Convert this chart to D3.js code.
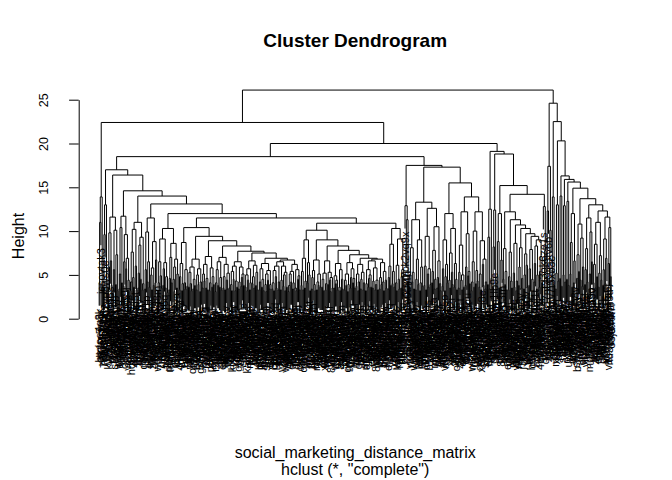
<!DOCTYPE html>
<html>
<head>
<meta charset="utf-8">
<script src="https://cdn.jsdelivr.net/npm/d3@7"></script>
<style>
  body { margin: 0; background: #fff; }
  svg text { font-family: "Liberation Sans", Arial, Helvetica, sans-serif; fill: #000; }
</style>
</head>
<body>
<svg id="chart" width="672" height="480"></svg>
<script>
// merge nodes are [height, left, right]; leaves are the user ids

// left end
const outlierA = [13.9, [11.0, [4.1, "hmjoe4g3k", "clk1m5w8s"], "jcsovtak3"], [3.9, "3oeb4hiln", "fd75x1vgk"]];
const outlierB = [13.0, [9.6, [3.6, "h6kqo5k2x", "7hbr3mk2a"], "q2yp8ws0e"], [4.4, "b4nmvq71t", "x9ei0zr5u"]];
const clusterP = [11.6, [9.8, [5.9, [3.5, "kw8m3ja2p", "0tze6nbq1"], "ulx4fv9rc"], [6.6, "m3h7dqo5s", [3.8, "pf2ga8wky", "e6jd0ul4n"]]], [10.1, [5.6, [3.3, "r1vx9tc7h", "s8oqk2ep5"], "9zdmw3jyb"], [7.3, [3.9, "g5cu1rn0i", "lq7b6xta2"], [3.2, "w0ye5hk8f", "n4pi2szd9"]]]];
const clusterQ = [11.7, [10.4, [5.1, [3.4, "a7tk0mz3q", "yv5n1oe8r"], "c2fh9wl6d"], [4.1, "5smq8iug0", "t3xb7pzk4"]], [9.6, [6.5, [3.7, "ie0r4dn2y", "o8ka5vmh1"], "zb6w3ct9j"], [6.9, [5.7, "1nyg7lqs5", "d9ue2fo0x"], [4.4, [3.3, "v4mp6hr8b", "jx1c0ta7e"], "f5lq9ks3w"]]]];
const clusterS = [11.0, [10.2, [7.6, [4.2, [3.2, "6rj2en8qa", "hc9o4xw1m"], "ky3t7bf0s"], [4.7, "ud8l5gp2z", [3.6, "2wq0ym6iv", "e7ns4ok9c"]]], [6.0, "pm1x8hd5t", [3.3, "bz4a2vu7l", "r9gk3jw0o"]]], [9.3, [8.4, [5.2, [3.5, "x0cf6le4n", "4ht9pa1qd"], "ws5u2kr8y"], [4.5, "ig7m0zs3b", "n2ox8cj5f"]], [4.0, [3.3, "8vlw1tq6e", "qd4j9ym2h"], "o6be3nx0k"]]];
const clusterT = [11.5, [9.9, [5.6, [3.4, "l3mz7cu9a", "fy0i5kr2w"], "t8dn4hq1p"], [6.5, [4.2, "9sgx2ob6v", "jk5e0wl3r"], [3.6, "cw7q1fm8z", "m0au6ty4g"]]], [8.8, [5.8, [5.0, "3pv9jd2nx", [3.3, "hq4s8lc0e", "z1ko7gb5u"]], [3.8, "yt6r2xm9i", "b8wl0ep3a"]], [6.7, [4.1, "5ec3nu7hf", "gx9z1qs4o"], "ar2k6vd8m"]]];
const clusterU = [10.3, [9.1, [6.5, [4.1, [3.2, "w3nb8ky1c", "0fh5qz7dl"], "s9ex2pu4j"], [4.9, "kr6o1mv3t", [3.5, "7dy4gaw0n", "qj2lc9h5x"]]], [6.4, [5.7, [3.8, "e5tz0bi8r", "vm3s7oy1k"], "h1wp4nf6q"], [4.8, [3.5, "u0gd9jx2m", "c7kr3le5z"], [3.0, "2yq8aht6v", "pn4f1wo9s"]]]], [8.6, [7.0, [4.6, [3.3, "mo7x2cg5b", "i9lu6ek0w"], "zs3h8rq1y"], [4.1, "bk0v5tn7f", "6qa9dm4jc"]], [6.8, [5.9, [4.5, "xe2j7sp0h", [3.1, "g8yo4ub1l", "t5cw9nk3r"]], "1mf6zq2va"], [5.1, [3.5, "dh3k0wi8e", "ry7n5ax2p"], "jo4u1bs9g"]]]];

// middle block
const clusterV1L = [8.7, [6.3, [4.8, [3.3, "na6t2lf9q", "4gw8zo1xk"], "fu0m3hc7y"], [4.0, [3.2, "lb5r9ie2d", "y1ks7vp4o"], "8cjq0xn6t"]], [5.6, [4.1, "ez3w5ga8m", [3.4, "ph9o2ur1j", "k6dy4lt0s"]], [3.7, "s2xn8fb5h", "0ov7ck3wq"]]];
const stepC1 = [6.8, [5.9, [5.3, [3.6, "mi1e8gz4r", "wd7u3qk0b"], [4.0, "3tn5yx9aj", [3.2, "hv0l6cs2f", "qr4p1mo8w"]]], [4.5, [3.4, "jz9b7nd3e", "c5ka0fw2u"], [3.8, "xo2g6ht9l", "7wmi4sr1v"]]], [5.7, [5.0, [3.3, "bu8c3pe6z", "kl1y5jq0n"], [3.9, "f4sx9ov2m", "r0dh7ti5a"]], [4.2, [3.1, "gn6q2wb8k", "5ye1zu4cx"], "tj3m0la9s"]]];
const stepC2 = [7.1, [6.2, [5.1, [3.5, "ea4o8vn1g", "9kxr2lf7d"], [4.3, "uh5t0bm3q", "z6wp9cj2i"]], [4.6, [3.5, "1sd7ey4ok", "nq0g3rx8v"], [3.3, "wl2f6ua9t", "b7ih5mz0c"]]], [5.8, [4.1, [3.2, "oy8j1kd4s", "p3vn6ew2x"], "ct9a0gq5l"], [4.8, [3.6, "6mu2hr8zb", "ij4x7sf1o"], [3.9, "k0le5ty9w", "dq8c3np6a"]]]];
const stepC3 = [7.0, [6.5, [5.6, [4.1, [3.1, "rz1m7kb4e", "5hy0qw2jn"], "gv6s9to3c"], [3.8, "lx3e8dp0u", "a9kf2ri6m"]], [4.7, [3.6, "nw5t1zc7y", "0jb4og8hq"], [3.3, "ys7d2lv5k", "e1qa9mx3f"]]], [6.2, [4.8, [3.5, "tc4n0ih6w", "8pu3ke1zr"], [3.3, "hg9w5jb2s", "m6ol1yf4d"]], [5.2, [4.4, "q0zr8ct5v", [3.4, "wk2i6nh9a", "3xe7gu0pl"]], [3.5, "fb1s4mq8j", "u7dy9aw2o"]]]];
const stepC4 = [6.5, [6.0, [5.4, [3.9, "cj5p2wx8n", [3.2, "9fo4ta1le", "kv7h3ys0m"]], [4.5, "dz0u6bq9r", "s4ng1ek7w"]], [4.3, [3.2, "xm8r5co2i", "1ah9vj3tf"], [3.6, "ot6l0wz4b", "y3e8sq5kd"]]], [5.9, [4.2, [3.4, "gp2c7mu9x", "w5ki1fr0n"], "e8xz4lo6h"], [5.1, [4.7, [3.7, "b0jt9dv3q", "7nm5gs2ya"], "hu3w8ep1c"], [3.8, "r6qf0kx5z", "l9b2oy7ti"]]]];
const stepC5 = [6.6, [5.7, [5.0, [3.6, "z7ws3nf0k", "2ci8hb5vq"], [4.4, [3.2, "ka1o6xe9m", "vt4g0dr7y"], "j8lz2uq3p"]], [4.1, [3.3, "n5ey9mi1s", "f0rp4ck6w"], "u2db7tx8h"]], [6.1, [4.8, [4.0, "o9qh3sg5l", "6xk1wn0ae"], [3.5, "pm4j8vz2r", "ct7f5ou1i"]], [5.3, [3.8, "y0gb6lq3d", "hn9s2ke4x"], [3.3, "4wa7tj1zm", "qe5r0py8c"]]]];
const stepC6 = [6.3, [5.7, [4.2, [3.3, "bm6d1xo9t", "r3ua8gk5e"], "w0lq7hc2n"], [4.5, [3.6, "9ti4zf6ys", "kd2n0mb8v"], [3.2, "ex5w3jr1o", "g7py9al4u"]]], [5.5, [5.1, [3.9, "1qc5vh8kz", [3.1, "sn3o7ew0f", "md8g2iy6j"]], [4.4, "ua0x4tq9l", "f6kb1rp3w"]], [3.9, [3.4, "h2jm9cs5a", "zl7e3vn0y"], "o4rf8dk1g"]]];
const stepC7 = [6.5, [6.0, [5.5, [4.1, [3.4, "tv3k8ab0q", "8ej1wy5mc"], [3.2, "pz6l2ro9h", "c0ng4ux7s"]], [4.8, "xi9f5tk2d", [3.5, "l1wa7mq3e", "5oh0vb8zj"]]], [4.2, [3.3, "ys4d9gn6r", "kq2t1ef5w"], "m8uc3jl0a"]], [6.0, [4.4, [3.3, "0rx6pi2vk", "wb5m8hz1t"], "gd1s4ou9n"], [5.3, [5.0, [3.7, "je7q0cy3f", "3ap9lw6xu"], [3.2, "v6nk2sd8m", "qh0z5tr4b"]], [3.6, "do3y7fg1i", "e9mw4ka2l"]]]];
const stepC8 = [6.2, [5.4, [5.1, [3.8, [3.1, "nk5x0ct8y", "7fq3eh1ow"], "r2wb9jm6s"], [4.2, "zu8g4dl1v", "i0py7sx3k"]], [4.1, [3.4, "a6ce2no9q", "ht1m5ru4j"], "b3zf8wk0e"]], [5.6, [3.5, "s9lo1qv6g", [3.2, "4dk7ja2xm", "wy0h3ti5c"]], [4.9, [4.5, "gm2r6ub9l", "x5ns0ef8p"], [3.3, "u7a1kzq4d", "ob9v3cw6h"]]]];
const clusterVL1 = [9.0, [6.9, [5.4, [3.8, "f8jk2wa5n", "lc0t6ey9r"], [3.3, "q4mh1zo7s", "y9xb3vd0g"]], [4.3, [3.5, "2ep6nl8kw", "kt5i0cq3u"], "ow7f4rj1z"]], [6.4, [4.1, "hs3y9gm6b", "c1ua5xe2q"], [5.0, "v8dn0lk4t", [3.2, "mz6w2pi9f", "5rq7oj3hc"]]]];
const stepD0 = [6.7, [5.5, [4.7, [3.4, "ba4k8vy1o", "uj7s3fn0e"], "z2cr9lw5h"], [3.9, "ek5g1tq8m", [3.2, "6iw0pd3xa", "ry8o2mb4v"]]], [5.1, [4.2, [3.3, "nx3u6hs9c", "0gl1ka7zf"], [3.8, "wq9e4co2t", "dm6b8ry5j"]], [3.6, "p1tf7vx3l", "hk4z0nu8s"]]];
const stepD1 = [6.6, [5.2, [4.5, [3.6, "sy2j9ei6w", "3lb0qz5dk"], [3.2, "gu8m4ct1r", "xa7n2oh6p"]], [4.0, [3.3, "k5fv1yw9e", "m0is8rd3q"], "c6hq3gl0u"]], [5.3, [3.9, "tz9w5ka2n", "1oe4jx7bm"], [4.7, [4.4, "vr3d6su8f", [3.1, "yh1l0pc5z", "8kq7ma2wi"]], [3.5, "ng4t9eb1x", "qj0y2fo6l"]]]];
const stepD2 = [6.3, [4.9, [3.5, "w9cg6un2a", "e3ky0ls7v"], [4.4, [4.0, "lm5p1zx8h", "ob2t7jr4d"], [3.3, "6fu9ew3qc", "i8ds5ng0y"]]], [5.6, [3.6, "rj0o4hb9k", [3.2, "a7mx1yv5t", "zq3e8wf2s"]], [4.5, "k1hn6ca4m", [3.4, "u5rl3dt7o", "9gz0ip8bx"]]]];
const stepD3 = [6.4, [5.1, [4.4, [3.3, "pd8y2qo6j", "x4sw9lk1e"], [3.8, "hf7a3mt0z", "2nb5cr8iu"]], [3.9, [3.1, "gy6k0ve4w", "mt1q9xs3h"], "sl9j4ad7f"]], [5.7, [4.7, [3.5, "0cw8ng2rp", "ve5z1hu6k"], "jb3m7xo9q"], [4.6, [4.1, "ro2e6ik5y", "f9tl4wc0a"], [3.5, "y6hd8sz1n", "nk0u3bq7g"]]]];
const stepD4 = [6.2, [5.1, [3.7, "ct5v9oj2m", "4zx1hg7eb"], [4.2, [3.2, "qa8s0wn6l", "ei3p5kf9r"], "wu7c2yd4t"]], [5.3, [4.5, [3.4, "h0mr6lz3x", "bo9k1qt8s"], "7vg4ej2wn"], [4.1, [3.3, "ld1f8xa5c", "sj6y3mu0p"], "z5nb9ih2k"]]];
const stepD5 = [6.6, [5.6, [4.0, [3.2, "mg4x7tk1o", "a2ow9fe5z"], "yc8l3rb0u"], [5.0, [4.6, [3.6, "k9dj2nq6h", "3ti0vs7ax"], "pw5e1gm8r"], [3.6, "ul0h4zc9f", "e6qy8ko3b"]]], [5.8, [4.3, [3.5, "fn7r3wd2j", "x1gb6ia4m"], "o5kt0ue8y"], [4.4, [3.9, [3.3, "cq2z9hl5v", "8wm4sn1fd"], "ji6a3ox0t"], [3.3, "v3bx7ey9k", "rl8p2cg4n"]]]];
const stepD6 = [6.4, [4.7, [3.4, "iz5q0wu7h", "d9ne3kl6s"], [3.9, "sx1m8jf4b", "hy7t2ao5c"]], [5.4, [4.2, "2kv6rp9ow", [3.2, "bg0d4lq8e", "tm3u7xi1z"]], [4.4, "q6fy1cn3a", [3.5, "wo9h5ek2r", "n4lj0sb7v"]]]];
const clusterE1 = [8.5, [6.0, [4.7, [3.4, "eu3c9mz6k", "7ra0xs4jl"], "lh8w2dn1q"], [3.8, "vk5o7ft3i", "y0pg4be9w"]], [5.4, [4.0, "zd2s6ua8h", "c9qm1ly5x"], [3.6, "gt4n0wk7o", "1jx8ev3rb"]]];
const clusterE2 = [9.1, [6.1, [4.1, "ob6t3hj0v", [3.2, "w2fl9qs5m", "ka7d1ye4n"]], [4.5, "5xg8cu2pz", [3.4, "r3mi6wo9e", "ti0z4bh7s"]]], [5.6, [4.8, [3.5, "hq9n2vf6c", "dl4k8ea1y"], "u1sr5jx3g"], [3.8, "8bw3mo0ti", "ze6y9pk2a"]]];

// block left of centre-right
const outlierD = [12.9, "m7ck2vq9x", [11.3, [8.4, "f3ow6by1l", "xq9e0tn4h"], [4.2, "2sj5lr8ud", "gb7a3zi0w"]]];
const clusterF1 = [11.3, [8.1, [5.0, [3.5, "yk4w1hp8c", "nv0d7qs3e"], "3lf9ag6mo"], [5.3, [4.2, "cz2r5xu0j", "ie8m3tw6b"], [3.4, "wp5y0ok9g", "qs1h7dl4f"]]], [9.0, [6.8, [4.5, [3.3, "a9en2jz5r", "vx3c8fm1k"], "hb6o4tq0w"], [3.9, "tu7l1rg8s", "0ma5kw3yd"]], [5.9, [4.1, [3.2, "ej2x9ch6n", "lr8s4vo0u"], "gz5q1ib3t"], [3.7, "6yd0mn7ka", "pk3f8hw2x"]]]];
const clusterF2 = [12.6, [9.4, [6.0, [3.8, "s4gj8yb2o", "d0wk5ne9h"], [3.3, "ux7m1rq3z", "i2tc6fa8l"]], [5.7, [5.1, "kn9v3pe0s", [3.6, "yo5h2lx7c", "b1qd9mw4r"]], [3.9, "f6zi0ug3k", "w8ea4jt1n"]]], [10.5, [7.8, [5.4, [4.1, "rc3y7od5m", "lj0b2sk8q"], "9hx6fv1wa"], [4.5, [3.4, "mp2u5zi9e", "ta8n4gc0y"], "ez1r7hk3b"]], [6.6, [4.7, [3.5, "q7ow0xd6j", "hv4l3ms8u"], "0ns9bf2tk"], [4.0, "gc5k8ya1r", [3.2, "zw3e6ql0i", "jm7t1pv9d"]]]]];
const clusterG1 = [12.0, [9.0, [5.7, [3.7, "u6ba3ns9x", "8kh0rw4fe"], "cy2p7jl5o"], [6.2, [4.8, [3.2, "vd9m1qt3g", "iw4z8ec6h"], "n0fk5uy2s"], [4.1, "ro3x9bl7a", "k8ej2gz6m"]]], [10.3, [7.5, [4.4, "t1ds6wo4q", [3.5, "xa9h0vk3c", "5lm8rf1zu"]], [5.3, "gq4y7nb2i", [3.9, "ep0t3cw9j", "hz6u1ks5y"]]], [6.3, [3.6, "w7lo4ad8r", "2fc9mx0vn"], [4.5, "jb5e2yq8t", [3.3, "oy1k6hg4w", "s9n3zu7el"]]]]];
const clusterG2a = [12.2, [8.4, [5.3, [3.5, "ml3q8ci0f", "z5hw2dy9k"], "b8rv6po1t"], [5.0, [4.4, "xe1g7su4n", [3.3, "ck9f0mt3a", "4jo5lwq8h"]], [3.6, "yu2n9ra6z", "fi7d3kb0w"]]], [9.7, [5.9, [3.8, "q0xs4ej7m", "lw6c1vh9g"], "8tb2ny5ou"], [5.4, [4.9, "dk5m9za3r", "hr1o6qf8x"], [4.0, "pe3j7gw0c", "v9ul2is4y"]]]];
const clusterG2b = [12.2, [10.0, [6.5, [4.2, [3.2, "ws8k3hx0d", "m2pa9yo6l"], "e7vj1tr4c"], [3.6, "gu0n5zb8q", "tk4f2il7s"]], [5.5, [4.0, "1hc6wm9rx", "ya3q8eg5o"], [4.3, "nd7s0pk2v", "jz9l4ub1f"]]], [8.9, [5.1, [3.6, "c4yx7wq0m", "r8oe3jd5h"], [3.3, "k1t6gn9sa", "x6bh2mz4u"]], [6.8, [6.2, "fw5r0ci8e", [3.8, "ol9d4ak3y", "3zq1uv7tn"]], [4.2, [3.4, "sg6m2ey0j", "vk2x9hr5b"], "a0nl7fo3w"]]]];

// right-hand block
const clusterEL = [12.5, [9.3, [3.9, "ip4w8tz1c", "6ks0yn3mq"], [3.4, "he5u2gl9o", "zr8a6dx4j"]], [4.6, "c1vb7qe0f", "tm9o3kw6s"]];
const clusterE2L = [12.4, [8.2, [3.6, "y2fh5rj8n", "ga7t0ux3k"], "n6qm1lb9e"], [4.1, "3wo8dv4sz", "ku1c5ai7p"]];
const clusterE3L = [12.0, [8.8, [4.8, "bx6e9oh2t", "f0sy4mn7l"], [3.5, "q9jc1wu5r", "vd3l8zk0g"]], [6.7, [3.6, "ep7k2ti4y", "82rw6bq0x"], "oh5g9sf3m"]];
const stepH0 = [8.0, [4.5, "lu4a0cy8d", "wm1n6jx2q"], [5.4, [3.9, "k7z3pe9hs", "9sv5io2lc"], [3.3, "rx0f8ab4w", "e3ht7ym1u"]]];
const stepH1 = [7.6, [4.8, [3.3, "g6ql2kd9z", "yb8w0ro5t"], "1mc4fs7nj"], [4.3, "zi5e9vu3a", [3.5, "pn2y7hx6l", "cd0k3gq8o"]]];
const stepH2 = [8.6, [5.2, "tw9j1ns4e", [3.6, "a5ox8lz2r", "hk3d6um0f"]], [4.3, [3.2, "v1pe4qy7g", "s8bz2wc5i"], "0jr7ta9mx"]];
const stepH3 = [8.1, [5.9, [3.8, "m4gu9eo1k", "xd7i3nr6w"], "q2lc5hb8y"], [4.6, [3.5, "f9tz0ka4s", "j3wm6vp1e"], "ul8o2xg5n"]];
const stepH4 = [7.4, [5.0, [3.4, "b6ns1fq9z", "ey0r5jc3t"], "k9xw4dm7a"], [6.1, "7hl2uo8gv", [3.6, "wc5k0yi3p", "rs1q9ne6b"]]];
const stepH5 = [7.9, [5.7, [3.8, "o3jd8tw2m", "gy6a1kx9f"], "zn4e7lr0c"], [4.5, [3.2, "h8vb2qs5u", "c0mi9yf3w"], "5tk6ph1oj"]];
const stepH6 = [8.3, [6.3, [4.2, "ye2x7cz4n", "lk9f3wa6q"], "s5ob0mj1t"], [5.0, [3.4, "ad8r6gu2h", "vn3t0ie9z"], "mj7w4qk1y"]];
const stepH7 = [7.1, [5.4, [3.6, "ex1l9sp5d", "4qg7hn0ow"], "t6cz3vm8r"], [4.1, "wj0k5ub2a", "n9rf4yd7x"]];
const clusterE4R = [12.8, "i3ok6ze1s", [7.8, [3.9, "c8wt2jh5v", "q4yd9pl0m"], "g1xa7nf3r"]];

// far right
const clusterRL = [17.4, [12.3, [4.4, "u5hs0wq8l", "zo2m7ck4e"], "y9je3tv6b"], [10.1, [3.8, "f4np1ra9x", "k0gb6dl2t"], "hw7i5xo3c"]];
const clusterR2L = [13.9, [4.9, "r2kq8ms0y", "ov6f1ej9w"], [3.9, "dc9x4yt1n", "gt0w6pi5k"]];
const clusterR3L = [13.0, [5.2, [3.4, "m1ye5ro8f", "xs7c2nb4j"], "w3ga9lu6q"], [4.3, "p6vo1hx9e", "bi4m7fs3l"]];
const clusterR4L = [14.0, [4.6, "l0cu8zn5t", "e7qj3wa1v"], [3.7, "tf5h0bi4x", "sz1r9ek7g"]];
const clusterR5L = [12.9, [5.0, "yq3n6cl0u", "kx8b1og5w"], [4.2, "hj6e4ft2r", "o9w0zu3pk"]];
const clusterR6L = [13.4, [4.5, "n5ci9yq1e", "vb0l3rw8t"], [3.8, "uw2s6ha0o", "za8j5pe1n"]];
const clusterR7L = [12.0, [8.7, [5.1, "ge4v1ok7x", "7yn0tc3wh"], [3.6, "qm9f2ul5s", "dr6e8bz0j"]], [6.6, [4.1, "x2hk5sa9c", "il7w3ym0q"], "ft4o1jn8v"]];
const clusterR8L = [10.8, [7.3, [4.6, [3.5, "sp0u7gc4e", "b3xy9mw1k"], "ko5r2if6z"], [5.4, "w8ad4ht0n", "r1je6qv3y"]], [9.2, [4.4, "0zn3cl8bo", "hy6t1xk5m"], [5.9, [3.7, "e9qs4wu2f", "vc1m7jp0a"], "lo8g3rd5t"]]];
const clusterR9L = [11.5, [8.0, [5.6, [3.9, "t7kw0ni3h", "ym2e5qa8x"], "gh4d9ul6s"], [4.2, "c3fz1ov7r", "pa8j2tk0w"]], [9.9, [5.1, [3.4, "mu5y7hb1e", "1xi9sc4lq"], "kn0r6gw3z"], [6.5, "wd2l8ef5o", "q6tb3ja9v"]]];
const clusterR10L = [11.0, [8.5, [6.2, [4.1, "j9cs4xm0u", "fe3o8nw6b"], [3.5, "zk7h1ry2d", "a4qv6lg9t"]], [4.8, "os1b9et5c", "y8w3mi2kf"]], [7.2, [5.2, [3.6, "dl6n0pu4x", "9rg5aj8qz"], "hq2y7cv1m"], [4.4, "ub0t3fs9e", "x5kz8wo4i"]]];
const clusterR10R = [11.6, [9.1, [5.6, [3.8, "gn8e2vj5w", "lt0q6dx3a"], "r4by9ck1s"], [6.9, [4.0, "m7uf3oz8h", "c2wi5en0y"], "k9pl1ta6j"]], [10.4, [6.3, [3.5, "v1sx7mq4g", "hd5o0rk8z"], "e8gy2wn3u"], [4.8, "zf6c9ib2l", "o3ja4ut7r"]]];

// upper merges
const branchV = [11.5,
  [10.4, clusterV1L, [9.4, stepC1, [8.9, stepC2, [8.3, stepC3, [7.7, stepC4, [7.5, stepC5, [6.9, stepC6, [6.7, stepC7, stepC8]]]]]]]],
  [10.9, [10.1, clusterVL1, [9.0, stepD0, [8.3, stepD1, [7.8, stepD2, [7.3, stepD3, [6.9, stepD4, [6.8, stepD5, stepD6]]]]]]], [10.3, clusterE1, clusterE2]]];
const branchLeft = [17.0, outlierB, [16.4, clusterP, [14.6, clusterQ, [14.0, clusterS, [13.1, clusterT, [12.0, clusterU, branchV]]]]]];
const branchD2 = [17.5, outlierD, [17.3, [13.3, clusterF1, clusterF2], [15.5, clusterG1, [13.9, clusterG2a, clusterG2b]]]];
const branchE = [19.1, clusterEL, [18.8, clusterE2L, [15.2, clusterE3L, [14.2,
  [12.2, stepH0, [11.3, stepH1, [10.7, stepH2, [10.3, stepH3, [9.7, stepH4, [9.4, stepH5, [9.0, stepH6, stepH7]]]]]]], clusterE4R]]]];
const branchR = [24.6, clusterRL, [22.5, clusterR2L, [20.3, clusterR3L, [16.3, clusterR4L, [15.9, clusterR5L,
  [15.6, clusterR6L, [14.9, clusterR7L, [13.7, clusterR8L, [13.0, clusterR9L, [12.3, clusterR10L, clusterR10R]]]]]]]]]];
const tree = [26.1, [22.4, outlierA, [20.0, [18.5, branchLeft, branchD2], branchE]], branchR];

const yTicks = [0, 5, 10, 15, 20, 25];
const chartTitle = "Cluster Dendrogram";
const xTitle = "social_marketing_distance_matrix";
const subTitle = 'hclust (*, "complete")';
const yTitle = "Height";
const hang = 0.1;

const svg = d3.select("#chart");
const plot = { left: 78.7, right: 631.7 };

const root = d3.hierarchy(tree, d => Array.isArray(d) ? d.slice(1) : null);
const leaves = root.leaves();
const n = leaves.length;
leaves.forEach((d, i) => { d.pos = i + 1; });
root.eachAfter(d => {
  if (d.children) d.pos = (d.children[0].pos + d.children[1].pos) / 2;
});
const hangH = hang * root.data[0];

const pad = 0.04 * (n - 1);
const x = d3.scaleLinear().domain([1 - pad, n + pad]).range([plot.left, plot.right]);
const y = d3.scaleLinear().domain([0, 25]).range([318.7, 99.7]);

const topOf = (node, parentH) => node.children ? node.data[0] : parentH - hangH;

const path = d3.path();
root.each(d => {
  if (!d.children) return;
  const h = d.data[0];
  const [a, b] = d.children;
  path.moveTo(x(a.pos), y(topOf(a, h)));
  path.lineTo(x(a.pos), y(h));
  path.lineTo(x(b.pos), y(h));
  path.lineTo(x(b.pos), y(topOf(b, h)));
});
svg.append("path")
  .attr("d", path.toString())
  .attr("fill", "none")
  .attr("stroke", "#000")
  .attr("stroke-width", 1);

svg.append("g")
  .selectAll("text")
  .data(leaves)
  .join("text")
  .attr("transform", d => `translate(${x(d.pos)},${y(d.parent.data[0] - hangH) + 3}) rotate(-90)`)
  .attr("dy", "0.35em")
  .attr("text-anchor", "end")
  .style("font-size", "11px")
  .text(d => d.data);

// y axis
const axis = svg.append("g")
  .attr("transform", `translate(${plot.left},0)`)
  .call(d3.axisLeft(y).tickValues(yTicks).tickSize(9.6).tickSizeOuter(0));
axis.select(".domain").attr("stroke", "#000");
axis.selectAll(".tick line").attr("stroke", "#000");
axis.selectAll(".tick text")
  .attr("transform", "rotate(-90)")
  .attr("x", 0)
  .attr("y", -30.7)
  .attr("dy", 0)
  .attr("text-anchor", "middle")
  .style("font-size", "12.5px")
  .style("font-family", '"Liberation Sans", Arial, Helvetica, sans-serif')
  .attr("fill", "#000");

svg.append("text")
  .attr("x", 355.2).attr("y", 47)
  .attr("text-anchor", "middle")
  .style("font-size", "19px").style("font-weight", "bold")
  .text(chartTitle);

svg.append("text")
  .attr("x", 355.2).attr("y", 457.5)
  .attr("text-anchor", "middle")
  .style("font-size", "16px")
  .text(xTitle);

svg.append("text")
  .attr("x", 355.2).attr("y", 474.5)
  .attr("text-anchor", "middle")
  .style("font-size", "16px")
  .text(subTitle);

svg.append("text")
  .attr("transform", "translate(24,236) rotate(-90)")
  .attr("text-anchor", "middle")
  .style("font-size", "16px")
  .text(yTitle);
</script>
</body>
</html>
